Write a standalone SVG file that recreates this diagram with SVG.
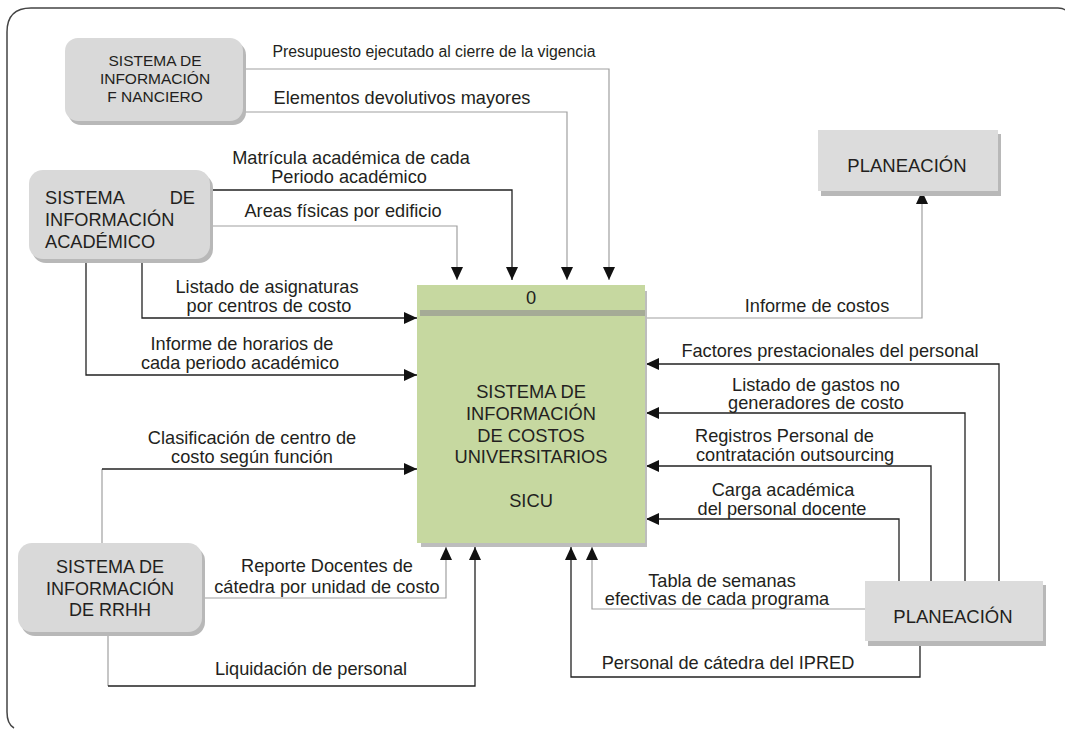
<svg xmlns="http://www.w3.org/2000/svg" width="1065" height="729" viewBox="0 0 1065 729">
<defs>
<marker id="ah" markerUnits="userSpaceOnUse" markerWidth="13" markerHeight="12" viewBox="0 0 13 12" refX="13" refY="6" orient="auto">
<path d="M0,0 L13,6 L0,12 z" fill="#111"/>
</marker>
</defs>
<style>
text{font-family:"Liberation Sans",Arial,sans-serif;fill:#231f20}
.lbl{font-size:18.2px;text-anchor:middle}
.ls{font-size:18.2px;text-anchor:start}
.nt{font-size:18px;text-anchor:middle}
.ct{font-size:18.3px;text-anchor:middle}
.ent{fill:#d9d9d9}
.sh{fill:#b8b8b8}
.g{fill:none;stroke:#a0a0a0;stroke-width:1.2}
.k{fill:none;stroke:#222;stroke-width:1.3}
.a{marker-end:url(#ah)}
</style>
<rect width="1065" height="729" fill="#fff"/>
<path d="M14,728 Q7,724 7,712 L7,32 Q7,8 31,8 L1058,8 Q1063,8 1065,10" fill="none" stroke="#444" stroke-width="1.5"/>

<g id="connectors">
<path class="g a" d="M245,69 H609 V280"/>
<path class="g a" d="M245,112 H567 V280"/>
<path class="k a" d="M211,190 H512 V280"/>
<path class="g a" d="M211,226 H457 V280"/>
<path class="k a" d="M142,259 V318 H417"/>
<path class="k a" d="M86,259 V375 H417"/>
<path class="g" d="M102,543 V469"/>
<path class="k a" d="M102,469 H417"/>
<path class="g a" d="M204,598 H446 V547"/>
<path class="g" d="M108,632 V686"/>
<path class="k a" d="M108,686 H475 V547"/>
<path class="g a" d="M645,318 H922 V191"/>
<path class="k a" d="M999,581 V364 H646"/>
<path class="k a" d="M965,581 V413 H646"/>
<path class="k a" d="M931,581 V466 H646"/>
<path class="k a" d="M899,581 V519 H646"/>
<path class="g a" d="M865,609 H592 V547"/>
<path class="k a" d="M920,641 V677 H571 V547"/>
</g>

<g id="labels">
<text x="434" y="57" style="font-size:15.8px;text-anchor:middle">Presupuesto ejecutado al cierre de la vigencia</text>
<text class="lbl" x="402" y="104">Elementos devolutivos mayores</text>
<text class="lbl" x="351" y="164">Matrícula académica de cada</text>
<text class="lbl" x="349" y="183">Periodo académico</text>
<text class="lbl" x="343" y="217">Areas físicas por edificio</text>
<text class="lbl" x="267" y="293">Listado de asignaturas</text>
<text class="lbl" x="269" y="312">por centros de costo</text>
<text class="lbl" x="242" y="350">Informe de horarios de</text>
<text class="lbl" x="240" y="369">cada periodo académico</text>
<text class="lbl" x="252" y="444">Clasificación de centro de</text>
<text class="lbl" x="252" y="463">costo según función</text>
<text class="lbl" x="327" y="572">Reporte Docentes de</text>
<text class="lbl" x="327" y="593">cátedra por unidad de costo</text>
<text class="lbl" x="311" y="675">Liquidación de personal</text>
<text class="lbl" x="817" y="312">Informe de costos</text>
<text class="lbl" x="830" y="357">Factores prestacionales del personal</text>
<text class="lbl" x="816" y="391">Listado de gastos no</text>
<text class="lbl" x="816" y="409">generadores de costo</text>
<text class="ls" x="695" y="442">Registros Personal de</text>
<text class="ls" x="696" y="461">contratación outsourcing</text>
<text class="lbl" x="783" y="496">Carga académica</text>
<text class="lbl" x="782" y="515">del personal docente</text>
<text class="lbl" x="722" y="587">Tabla de semanas</text>
<text class="lbl" x="717" y="605">efectivas de cada programa</text>
<text class="lbl" x="728" y="669">Personal de cátedra del IPRED</text>
</g>

<g id="node-si-financiero">
<rect class="sh" x="68" y="42" width="178" height="83" rx="13"/>
<rect class="ent" x="65" y="38" width="178" height="83" rx="13"/>
<text x="155" y="66" style="font-size:15.5px;text-anchor:middle">SISTEMA DE</text>
<text x="155" y="84" style="font-size:15.5px;text-anchor:middle">INFORMACIÓN</text>
<text x="155" y="102" style="font-size:15.5px;text-anchor:middle">F NANCIERO</text>
</g>

<g id="node-si-academico">
<rect class="sh" x="32" y="174" width="181" height="89" rx="14"/>
<rect class="ent" x="29" y="170" width="181" height="89" rx="14"/>
<text x="45" y="204" style="font-size:18.2px">SISTEMA</text>
<text x="195" y="204" style="font-size:18.2px;text-anchor:end">DE</text>
<text x="45" y="226" style="font-size:18.2px">INFORMACIÓN</text>
<text x="45" y="248" style="font-size:18.2px">ACADÉMICO</text>
</g>

<g id="node-si-rrhh">
<rect class="sh" x="21" y="547" width="184" height="89" rx="14"/>
<rect class="ent" x="18" y="543" width="184" height="89" rx="14"/>
<text class="nt" x="110" y="573">SISTEMA DE</text>
<text class="nt" x="110" y="595">INFORMACIÓN</text>
<text class="nt" x="110" y="616">DE RRHH</text>
</g>

<g id="node-sicu">
<rect fill="#bdbdbd" x="421" y="291" width="226" height="256"/>
<rect fill="#c6d8a0" x="417" y="285" width="228" height="258"/>
<rect fill="#a5ab96" x="420" y="310" width="225" height="6"/>
<text class="ct" x="531" y="304">0</text>
<text class="ct" x="531" y="398">SISTEMA DE</text>
<text class="ct" x="531" y="420">INFORMACIÓN</text>
<text class="ct" x="531" y="442">DE COSTOS</text>
<text class="ct" x="531" y="463">UNIVERSITARIOS</text>
<text class="ct" x="531" y="507">SICU</text>
</g>

<g id="node-planeacion-top">
<rect class="sh" x="821" y="134" width="180" height="62"/>
<rect fill="#dcdcdc" x="818" y="130" width="180" height="61"/>
<text x="907" y="172" style="font-size:18.5px;text-anchor:middle">PLANEACIÓN</text>
</g>

<g id="node-planeacion-bottom">
<rect class="sh" x="868" y="585" width="178" height="61"/>
<rect fill="#dcdcdc" x="865" y="581" width="178" height="60"/>
<text x="953" y="623" style="font-size:18.5px;text-anchor:middle">PLANEACIÓN</text>
</g>
</svg>
